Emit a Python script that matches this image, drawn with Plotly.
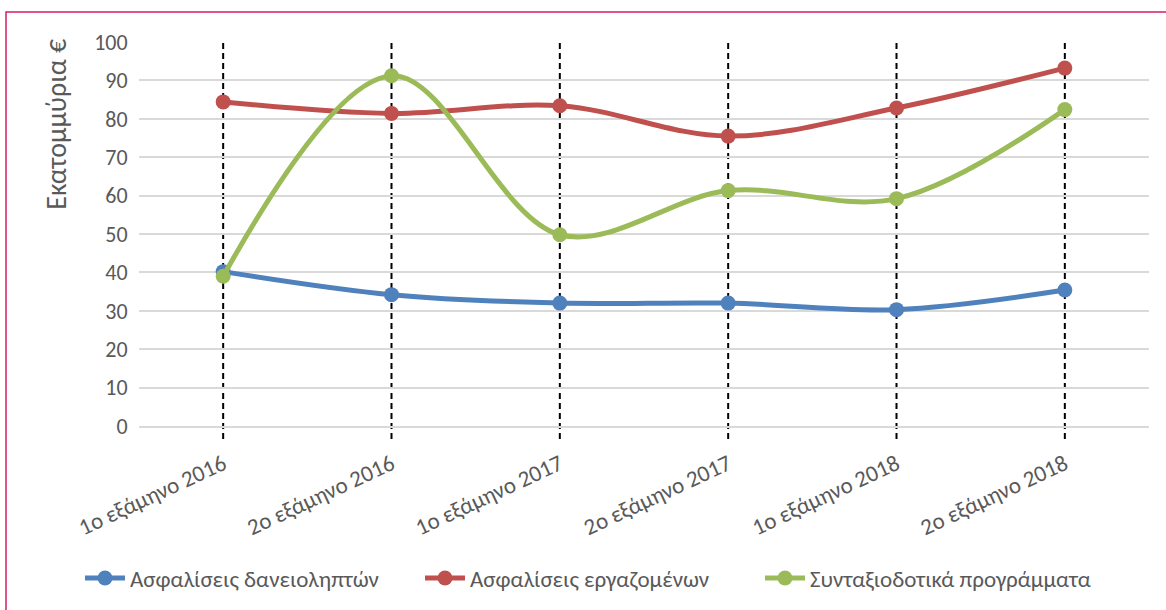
import plotly.graph_objects as go

categories = ["1ο εξάμηνο 2016", "2ο εξάμηνο 2016", "1ο εξάμηνο 2017",
              "2ο εξάμηνο 2017", "1ο εξάμηνο 2018", "2ο εξάμηνο 2018"]
borrowers = [40.2, 34.2, 32.0, 32.0, 30.3, 35.4]
employees = [84.4, 81.4, 83.4, 75.5, 82.8, 93.2]
pension = [39.0, 91.2, 49.8, 61.3, 59.2, 82.4]
y_ticks = [0, 10, 20, 30, 40, 50, 60, 70, 80, 90, 100]

series = [
    ("Ασφαλίσεις δανειοληπτών", borrowers, "#4f81bd"),
    ("Ασφαλίσεις εργαζομένων", employees, "#c0504d"),
    ("Συνταξιοδοτικά προγράμματα", pension, "#9bbb59"),
]

FONT = "Carlito, Calibri, 'Noto Sans', sans-serif"
TXT = "#595959"

fig = go.Figure()
for name, vals, col in series:
    fig.add_trace(go.Scatter(
        x=categories, y=vals, name=name, mode="lines+markers",
        line=dict(color=col, width=5, shape="spline", smoothing=1.0),
        marker=dict(color=col, size=15),
    ))

W, H = 1166, 610
L, R, T, B = 139, 17, 42, 183
pw, ph = W - L - R, H - T - B

def py(pix):
    return (T + ph - pix) / ph

def px(pix):
    return (pix - L) / pw

shapes = []
for c in categories:
    shapes.append(dict(type="line", xref="x", yref="paper", x0=c, x1=c,
                       y0=py(440), y1=1, layer="below",
                       line=dict(color="black", width=2, dash="6px,4px")))
shapes.append(dict(type="rect", xref="paper", yref="paper",
                   x0=px(6), x1=px(1172), y0=py(620), y1=py(12),
                   line=dict(color="#d81b6a", width=1.5),
                   fillcolor="rgba(0,0,0,0)"))

fig.update_layout(
    width=W, height=H,
    margin=dict(l=L, r=R, t=T, b=B),
    paper_bgcolor="white", plot_bgcolor="white",
    font=dict(family=FONT, color=TXT, size=22),
    showlegend=True,
    legend=dict(orientation="h", x=px(80), xanchor="left",
                y=py(578), yanchor="middle",
                font=dict(size=23, color=TXT, family=FONT),
                itemwidth=40, entrywidth=285, entrywidthmode="pixels",
                traceorder="normal"),
    xaxis=dict(type="category", range=[-0.5, 5.5], showgrid=False,
               showline=True, linecolor="#d9d9d9", linewidth=1.5,
               ticks="outside", ticklen=14, tickcolor="rgba(0,0,0,0)",
               tickangle=-25, tickfont=dict(size=23, color=TXT),
               fixedrange=True),
    yaxis=dict(range=[0, 100], tickvals=y_ticks, showgrid=True,
               gridcolor="#d9d9d9", gridwidth=1.5, zeroline=False,
               showline=False, ticks="outside", ticklen=6,
               tickcolor="rgba(0,0,0,0)",
               tickfont=dict(size=22, color=TXT)),
    shapes=shapes,
    annotations=[dict(text="Εκατομμύρια €", textangle=-90, xref="paper",
                      yref="paper", x=px(57), y=py(125),
                      xanchor="center", yanchor="middle", showarrow=False,
                      font=dict(size=28, color=TXT, family=FONT))],
)

fig.write_html("out.html", config={"displayModeBar": False},
               post_script="document.body.style.margin='0px';")
